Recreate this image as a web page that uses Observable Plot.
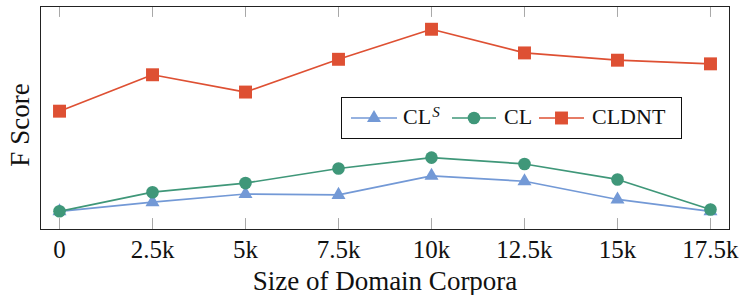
<!DOCTYPE html>
<html><head><meta charset="utf-8">
<script src="https://cdn.jsdelivr.net/npm/d3@7"></script>
<script src="https://cdn.jsdelivr.net/npm/@observablehq/plot@0.6"></script>
<style>
body{margin:0;background:#fff}
svg{display:block}
#chart svg text, #chart svg tspan { font-family: "Liberation Serif", "DejaVu Serif", serif !important; }
</style>
</head><body><div id="chart"></div>
<script>
// ---- data ----
const sizes = [0, 2500, 5000, 7500, 10000, 12500, 15000, 17500];
const xTickLabels = ["0", "2.5k", "5k", "7.5k", "10k", "12.5k", "15k", "17.5k"];
const clS   = [60.0, 61.0, 61.9, 61.8, 63.9, 63.3, 61.3, 60.0];
const cl    = [60.0, 62.1, 63.1, 64.7, 65.9, 65.2, 63.5, 60.2];
const cldnt = [71.0, 75.0, 73.1, 76.7, 80.0, 77.4, 76.6, 76.2];
const seriesNames = ["CLS", "CL", "CLDNT"];
const seriesColors = ["#7399d6", "#3f9779", "#de5033"];
const seriesSymbols = ["triangle", "circle", "square"];
const xLabel = "Size of Domain Corpora";
const yLabel = "F Score";

const values = [clS, cl, cldnt];
const rows = [];
seriesNames.forEach((s, k) => sizes.forEach((x, i) => rows.push({series: s, x, y: values[k][i]})));

const xDomain = [-511, 18011];
const yDomain = [58.0, 82.5];
const tickLen = 1.2;
const font = "Liberation Serif, DejaVu Serif, serif";
const radii = [5.2, 6.3, 7.3];

const seriesMarks = [];
seriesNames.forEach((s, k) => {
  const d = rows.filter(r => r.series === s);
  seriesMarks.push(Plot.line(d, {x: "x", y: "y", stroke: seriesColors[k], strokeWidth: 1.7}));
  seriesMarks.push(Plot.dot(d, {x: "x", y: "y", fill: seriesColors[k], stroke: "none", symbol: seriesSymbols[k], r: radii[k]}));
});

const chart = Plot.plot({
  width: 743, height: 295,
  marginLeft: 40, marginRight: 14, marginTop: 6, marginBottom: 66,
  style: {fontFamily: font, background: "#fff", color: "#111"},
  x: {domain: xDomain},
  y: {domain: yDomain, axis: null},
  marks: [
    Plot.ruleX(sizes, {x: d => d, y1: yDomain[0], y2: yDomain[0] + tickLen, stroke: "#a8a8a8", strokeWidth: 1}),
    Plot.ruleX(sizes, {x: d => d, y1: yDomain[1] - tickLen, y2: yDomain[1], stroke: "#a8a8a8", strokeWidth: 1}),
    Plot.axisX({ticks: sizes, tickFormat: d => xTickLabels[sizes.indexOf(d)], tickSize: 0, tickPadding: 11, fontSize: 25, letterSpacing: 0.5, label: null, fill: "#111"}),
    Plot.text([xLabel], {text: d => d, frameAnchor: "bottom", textAnchor: "middle", dy: 41, lineAnchor: "top", fontSize: 27, letterSpacing: 0.8, fill: "#111"}),
    Plot.text([yLabel], {text: d => d, frameAnchor: "left", textAnchor: "middle", lineAnchor: "middle", dx: -20, dy: 7, rotate: -90, fontSize: 27, letterSpacing: 0.3, fill: "#111"}),
    ...seriesMarks,
    Plot.frame({stroke: "#222", strokeWidth: 1})
  ]
});
document.getElementById("chart").appendChild(chart);

// ---- legend inside the plot ----
const svg = d3.select(chart);
const lg = svg.append("g").attr("font-size", 22).attr("fill", "#111");
lg.append("rect").attr("x", 341.5).attr("y", 97.5).attr("width", 340).attr("height", 41)
  .attr("fill", "#fff").attr("stroke", "#111").attr("stroke-width", 1);
const ly = 118;
const items = [
  {x1: 351, x2: 397, tx: 403},
  {x1: 452, x2: 496, tx: 504},
  {x1: 539, x2: 584, tx: 592}
];
items.forEach((it, k) => {
  lg.append("line").attr("x1", it.x1).attr("x2", it.x2).attr("y1", ly).attr("y2", ly)
    .attr("stroke", seriesColors[k]).attr("stroke-width", 1.7);
  const sym = {triangle: d3.symbolTriangle, circle: d3.symbolCircle, square: d3.symbolSquare}[seriesSymbols[k]];
  lg.append("path").attr("d", d3.symbol(sym, Math.PI * radii[k] * radii[k])())
    .attr("transform", `translate(${(it.x1 + it.x2) / 2},${ly})`).attr("fill", seriesColors[k]);
  const t = lg.append("text").attr("x", it.tx).attr("y", ly + 6).attr("text-anchor", "start");
  if (k === 0) {
    t.append("tspan").text("CL");
    t.append("tspan").attr("font-size", 15).attr("font-style", "italic").attr("dx", 1).attr("dy", -7).text("S");
  } else {
    t.text(seriesNames[k]);
  }
});
</script>
</body></html>
